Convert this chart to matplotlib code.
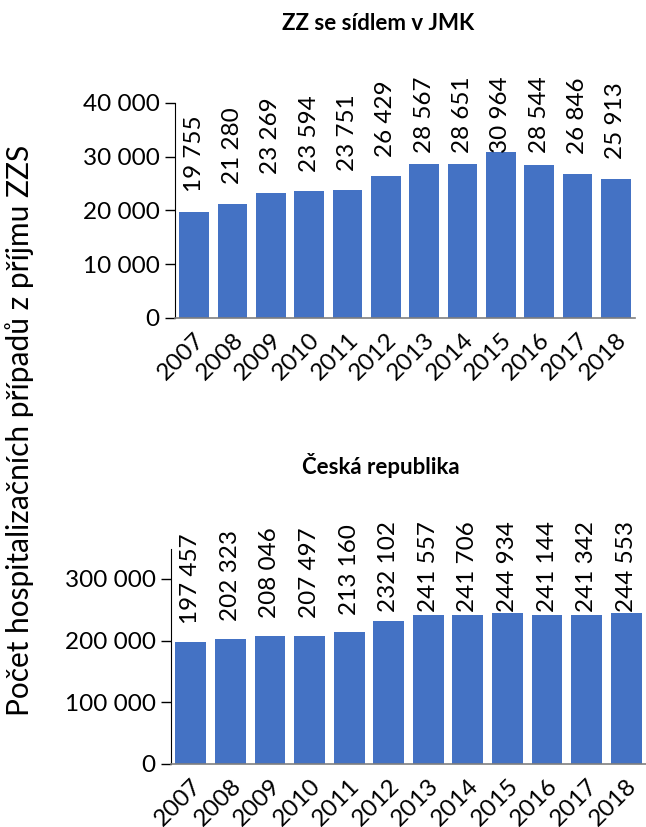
import matplotlib
matplotlib.use("Agg")
import matplotlib.pyplot as plt
import numpy as np

years = ['2007', '2008', '2009', '2010', '2011', '2012',
         '2013', '2014', '2015', '2016', '2017', '2018']
jmk = [19755, 21280, 23269, 23594, 23751, 26429,
       28567, 28651, 30964, 28544, 26846, 25913]
cr = [197457, 202323, 208046, 207497, 213160, 232102,
      241557, 241706, 244934, 241144, 241342, 244553]

plt.rcParams['font.family'] = ['Lato', 'DejaVu Sans']
BLUE = '#4472C4'
FS = 17.5


def fmt(v):
    return '{:,}'.format(int(v)).replace(',', ' ')


def draw(ax, vals, ymax, ticks, off, cap):
    x = np.arange(len(vals))
    ax.bar(x, vals, width=0.78, color=BLUE)
    ax.set_xlim(-0.5, len(vals) - 0.5)
    ax.set_ylim(0, ymax)
    ax.set_yticks(ticks)
    ax.set_yticklabels([fmt(t) for t in ticks], fontsize=FS)
    ax.set_xticks(x)
    ax.set_xticklabels(years, fontsize=FS, rotation=45, ha='right',
                       va='top', rotation_mode='anchor')
    ax.tick_params(axis='x', length=0, pad=8)
    ax.tick_params(axis='y', length=7, width=1, direction='out', pad=4)
    for s in ['top', 'right']:
        ax.spines[s].set_visible(False)
    ax.spines['left'].set_color('#000000')
    ax.spines['bottom'].set_color('#7f7f7f')
    ax.spines['bottom'].set_linewidth(1.2)
    for xi, v in zip(x, vals):
        ax.text(xi, min(v + off, cap), fmt(v), rotation=90, ha='center',
                va='bottom', fontsize=FS, clip_on=False)


fig = plt.figure(figsize=(6.46, 8.27), dpi=100)

ax1 = fig.add_axes([0.2709, 0.6155, 0.983 - 0.2709, 0.8755 - 0.6155])
draw(ax1, jmk, 40000, [0, 10000, 20000, 30000, 40000], 3600, 30700)

ax2 = fig.add_axes([0.2647, 0.0762, 1.0 - 0.2647, 0.3362 - 0.0762])
draw(ax2, cr, 348500, [0, 100000, 200000, 300000], 29000, 246000)

fig.text(378 / 646, 1 - 24 / 827, 'ZZ se sídlem v JMK', ha='center',
         va='center', fontsize=16, fontweight='bold')
fig.text(381 / 646, 1 - 466 / 827, 'Česká republika', ha='center',
         va='center', fontsize=16, fontweight='bold')
fig.text(20 / 646, 1 - 430 / 827,
         'Počet hospitalizačních případů z příjmu ZZS', rotation=90,
         ha='center', va='center', fontsize=21.5)

fig.savefig('out.png', dpi=100)
